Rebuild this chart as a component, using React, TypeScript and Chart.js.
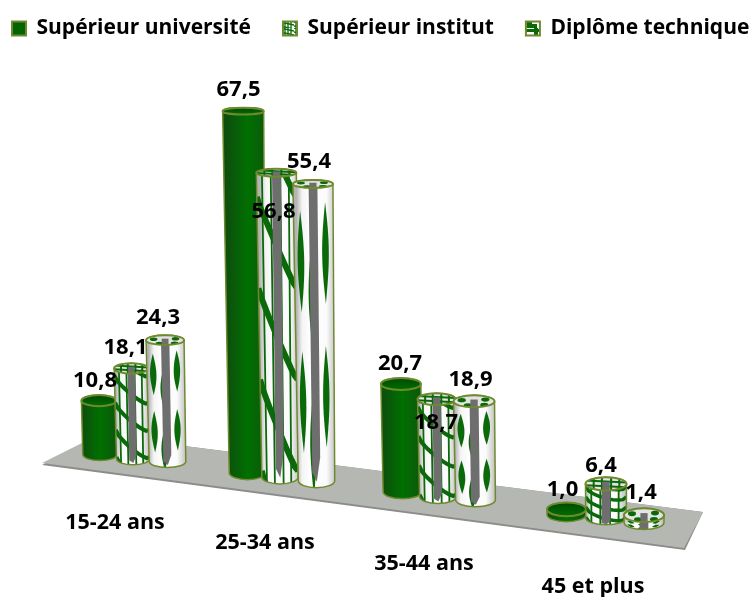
import React, { useEffect, useRef } from "react";
import { Chart, registerables } from "chart.js";

Chart.register(...registerables);

// ---- data ----
const categories = ["15-24 ans", "25-34 ans", "35-44 ans", "45 et plus"];
const seriesNames = ["Supérieur université", "Supérieur institut", "Diplôme technique"];
const universite = [10.8, 67.5, 20.7, 1.0];
const institut = [18.1, 56.8, 18.7, 6.4];
const technique = [24.3, 55.4, 18.9, 1.4];

// ---- 3D perspective layout (where each column stands on the sloping floor) ----
const xUniversite = [100, 247.5, 402.5, 566.5];
const xInstitut = [133, 280, 438, 606];
const xTechnique = [167.5, 316.5, 475.5, 644];
const floorUniversite = [26.8, 23.4, 19.8, 15.5];
const floorInstitut = [26.0, 22.6, 18.9, 14.9];
const floorTechnique = [25.5, 21.9, 18.3, 14.0];
const depth = [0.94, 1.008, 0.98, 1];
const lean = [0.02, 0.012, 0.015, 0];
const radii = [
  [17.5, 20.5, 20, 19.5],
  [17, 20, 19, 20.5],
  [19, 20, 20.5, 20],
];
const baseRy = [6, 7, 7, 7];
const labelDx = [
  [-5, -9, -2.5, -4],
  [-7.5, -6.5, -2, -5],
  [-9.5, -7.5, -5, -3],
];
const labelDy = [
  [-20, -21, -20, -20],
  [-21, 39.5, 24, -18.5],
  [-22, -22, -22, -22.5],
];
const catX = [115, 265, 424, 593];
const catY = [522.5, 542.5, 563.5, 586.5];

const OLIVE = "#6f8a2e";
const GREEN = "#0a6a0a";
const FONT = "'Open Sans', Lato, sans-serif";

function tile(kind: number) {
  const c = document.createElement("canvas");
  c.width = 14;
  c.height = 14;
  const x = c.getContext("2d")!;
  if (kind === 0) {
    x.fillStyle = "#006400";
    x.fillRect(0, 0, 14, 14);
  } else if (kind === 1) {
    x.fillStyle = "#fff";
    x.fillRect(0, 0, 14, 14);
    x.strokeStyle = GREEN;
    x.lineWidth = 1.3;
    [2, 5, 8, 11].forEach((p) => {
      x.beginPath();
      x.moveTo(p, 0);
      x.lineTo(p, 14);
      x.stroke();
    });
    [0, 4, 8, 12].forEach((p) => {
      x.beginPath();
      x.moveTo(0, p);
      x.lineTo(14, p + 3);
      x.stroke();
    });
  } else {
    x.fillStyle = "#fff";
    x.fillRect(0, 0, 14, 14);
    x.fillStyle = GREEN;
    x.fillRect(0, 1, 14, 3);
    x.fillRect(2, 0, 4, 8);
    x.fillRect(9, 8, 5, 6);
    x.fillRect(0, 10, 5, 4);
  }
  return c;
}

function cylinder(ctx: CanvasRenderingContext2D, kind: number, g: number, r: number, el: any) {
  const bx = el.x;
  const by = el.base;
  const ty = el.y;
  const h = by - ty;
  const tx = bx - h * lean[g];
  const rT = r;
  const rB = r * (1 - h * 0.0003);
  const ryB = baseRy[g];
  const ryT = ryB * (1 - h / 700);

  const silhouette = () => {
    ctx.beginPath();
    ctx.moveTo(tx - rT, ty);
    ctx.lineTo(bx - rB, by);
    ctx.ellipse(bx, by, rB, ryB, 0, Math.PI, 0, true);
    ctx.lineTo(tx + rT, ty);
    ctx.ellipse(tx, ty, rT, ryT, 0, 0, Math.PI, true);
    ctx.closePath();
  };
  const P = (u: number, t: number): [number, number] => {
    const cx = tx + (bx - tx) * t;
    const rr = rT + (rB - rT) * t;
    const ry = ryT + (ryB - ryT) * t;
    return [cx + u * rr, ty + h * t + ry * Math.sqrt(Math.max(0, 1 - u * u))];
  };

  ctx.save();
  silhouette();
  ctx.save();
  ctx.clip();
  const grad = ctx.createLinearGradient(bx - r, 0, bx + r, 0);
  if (kind === 0) {
    grad.addColorStop(0, "#0d4f0d");
    grad.addColorStop(0.5, "#007000");
    grad.addColorStop(1, "#0d560d");
  } else {
    grad.addColorStop(0, "#b4b4b4");
    grad.addColorStop(0.14, "#f4f4f4");
    grad.addColorStop(0.35, "#ffffff");
    grad.addColorStop(0.75, "#fbfbfb");
    grad.addColorStop(1, "#bcbcbc");
  }
  ctx.fillStyle = grad;
  ctx.fillRect(bx - r - 8, ty - r, 2 * r + 16, h + 2 * r);

  if (kind === 1) {
    ctx.strokeStyle = GREEN;
    ctx.lineCap = "butt";
    [-0.72, -0.28, 0.2, 0.62].forEach((u) => {
      ctx.lineWidth = 1.8;
      ctx.beginPath();
      for (let i = 0; i <= 10; i++) {
        const p = P(u, i / 10);
        if (i === 0) ctx.moveTo(p[0], p[1]);
        else ctx.lineTo(p[0], p[1]);
      }
      ctx.stroke();
    });
    ctx.lineWidth = 3.2 + h / 110;
    for (let k = -1; k < 4; k++) {
      const t0 = k * 0.3 + 0.08;
      ctx.beginPath();
      for (let i = 0; i <= 12; i++) {
        const u = -1 + i / 6;
        const p = P(u, t0 + ((u + 1) / 2) * 0.3);
        if (i === 0) ctx.moveTo(p[0], p[1]);
        else ctx.lineTo(p[0], p[1]);
      }
      ctx.stroke();
    }
  } else if (kind === 2) {
    const leaves: [number, number][] = [
      [-0.66, 0.25],
      [0.6, 0.22],
      [-0.12, 0.36],
      [-0.66, 0.72],
      [0.58, 0.7],
      [-0.14, 0.86],
    ];
    ctx.fillStyle = GREEN;
    leaves.forEach(([u, t]) => {
      ctx.beginPath();
      for (let i = 0; i <= 16; i++) {
        const s = i / 8 - 1;
        const w = 0.17 * Math.cos((s * Math.PI) / 2);
        const p = P(u - w, t + s * 0.17);
        if (i === 0) ctx.moveTo(p[0], p[1]);
        else ctx.lineTo(p[0], p[1]);
      }
      for (let i = 16; i >= 0; i--) {
        const s = i / 8 - 1;
        const w = 0.17 * Math.cos((s * Math.PI) / 2);
        const p = P(u + w, t + s * 0.17);
        ctx.lineTo(p[0], p[1]);
      }
      ctx.fill();
    });
  }
  if (kind > 0) {
    // grey seam running down the column
    const a = P(-0.22, 0.0);
    const b = P(0.22, 0.0);
    const c = P(0.22, 0.9);
    const d = P(0.02, 0.98);
    const e = P(-0.22, 0.95);
    ctx.fillStyle = "#6e6e6e";
    ctx.beginPath();
    ctx.moveTo(a[0], a[1] - ryT * 2);
    ctx.lineTo(b[0], b[1] - ryT * 2);
    ctx.lineTo(c[0], c[1]);
    ctx.lineTo(d[0], d[1]);
    ctx.lineTo(e[0], e[1]);
    ctx.closePath();
    ctx.fill();
  }
  ctx.restore();

  ctx.strokeStyle = OLIVE;
  ctx.lineWidth = 1.5;
  silhouette();
  ctx.stroke();

  // top cap
  ctx.beginPath();
  ctx.ellipse(tx, ty, rT, ryT, 0, 0, Math.PI * 2);
  ctx.save();
  ctx.clip();
  if (kind === 0) {
    const cap = ctx.createLinearGradient(0, ty - ryT, 0, ty + ryT);
    cap.addColorStop(0, "#004a00");
    cap.addColorStop(1, "#006e00");
    ctx.fillStyle = cap;
    ctx.fillRect(tx - rT, ty - ryT, 2 * rT, 2 * ryT);
  } else {
    ctx.fillStyle = "#e4e4e4";
    ctx.fillRect(tx - rT, ty - ryT, 2 * rT, 2 * ryT);
    ctx.strokeStyle = GREEN;
    ctx.lineWidth = 2;
    if (kind === 1) {
      [-0.6, -0.2, 0.25, 0.65].forEach((u) => {
        ctx.beginPath();
        ctx.moveTo(tx + u * rT, ty - ryT);
        ctx.lineTo(tx + u * rT, ty + ryT);
        ctx.stroke();
      });
      [-0.35, 0.35].forEach((v) => {
        ctx.beginPath();
        ctx.moveTo(tx - rT, ty + v * ryT - 1);
        ctx.lineTo(tx + rT, ty + v * ryT + 1);
        ctx.stroke();
      });
    } else {
      ctx.fillStyle = GREEN;
      [
        [-0.6, -0.2],
        [0.55, -0.3],
        [-0.3, 0.65],
        [0.5, 0.6],
      ].forEach(([u, v]) => {
        ctx.beginPath();
        ctx.ellipse(tx + u * rT, ty + v * ryT, rT * 0.2, Math.max(1.2, ryT * 0.35), 0, 0, Math.PI * 2);
        ctx.fill();
      });
    }
    ctx.fillStyle = "#6e6e6e";
    ctx.fillRect(tx - rT * 0.18, ty - ryT * 0.3, rT * 0.36, ryT * 1.4);
  }
  ctx.restore();
  ctx.strokeStyle = OLIVE;
  ctx.lineWidth = 2;
  ctx.beginPath();
  ctx.ellipse(tx, ty, rT, ryT, 0, 0, Math.PI * 2);
  ctx.stroke();
  ctx.restore();
}

const scenePlugin = {
  id: "scene",
  beforeLayout(chart: any) {
    // keep the three legend entries on a single row
    if (chart.legend && !chart.legend.__oneRow) {
      chart.legend.__oneRow = true;
      Object.defineProperty(chart.legend, "maxWidth", { get: () => 2000, set() {} });
    }
  },
  afterLayout(chart: any) {
    const l = chart.legend;
    l.top = -14;
    l.left = 12 - 32;
    l.right = 2000;
  },
  beforeDatasetsDraw(chart: any) {
    const ctx = chart.ctx as CanvasRenderingContext2D;
    ctx.save();
    const poly = (pts: number[][], fill: string) => {
      ctx.fillStyle = fill;
      ctx.beginPath();
      pts.forEach((p, i) => (i ? ctx.lineTo(p[0], p[1]) : ctx.moveTo(p[0], p[1])));
      ctx.closePath();
      ctx.fill();
    };
    poly(
      [
        [98, 435],
        [703, 512],
        [685, 550],
        [42, 465],
      ],
      "#8c8d8a"
    );
    poly(
      [
        [98, 435],
        [703, 512],
        [684, 548],
        [42, 463],
      ],
      "#b5b7b2"
    );
    ctx.restore();
  },
  afterDatasetsDraw(chart: any) {
    const ctx = chart.ctx as CanvasRenderingContext2D;
    const metas = [0, 1, 2].map((i) => chart.getDatasetMeta(i));
    for (let g = 0; g < categories.length; g++) {
      metas.forEach((m: any, s: number) => cylinder(ctx, s, g, radii[s][g], m.data[g]));
    }
    ctx.save();
    ctx.fillStyle = "#000";
    ctx.textAlign = "center";
    ctx.textBaseline = "middle";
    ctx.font = `700 22px ${FONT}`;
    const values = [universite, institut, technique];
    metas.forEach((m: any, s: number) => {
      m.data.forEach((el: any, g: number) => {
        ctx.fillText(values[s][g].toFixed(1).replace(".", ","), el.x + labelDx[s][g], el.y + labelDy[s][g]);
      });
    });
    ctx.font = `700 21.5px ${FONT}`;
    categories.forEach((c, i) => ctx.fillText(c, catX[i], catY[i]));
    ctx.restore();
  },
};

export default function App() {
  const ref = useRef<HTMLCanvasElement | null>(null);
  useEffect(() => {
    const canvas = ref.current!;
    const ctx = canvas.getContext("2d")!;
    const series = [
      { v: universite, x: xUniversite, f: floorUniversite },
      { v: institut, x: xInstitut, f: floorInstitut },
      { v: technique, x: xTechnique, f: floorTechnique },
    ];
    const chart = new Chart(canvas, {
      type: "bar",
      data: {
        datasets: series.map((s, i) => ({
          label: seriesNames[i],
          data: s.v.map((v, g) => ({ x: s.x[g], y: [s.f[g], s.f[g] + v * depth[g]] })),
          backgroundColor: ctx.createPattern(tile(i), "repeat") as any,
          borderColor: OLIVE,
          borderWidth: 2,
          borderSkipped: false,
          barThickness: 24,
          grouped: false,
        })),
      },
      options: {
        responsive: false,
        animation: false,
        layout: { padding: 0 },
        plugins: {
          tooltip: { enabled: false },
          legend: {
            display: true,
            position: "top",
            align: "start",
            maxWidth: 752,
            labels: {
              font: { family: FONT, size: 21, weight: 700 },
              color: "#000",
              boxWidth: 14,
              boxHeight: 14,
              padding: 32,
            },
          },
        },
        scales: {
          x: { type: "linear", display: false, min: 0, max: 752, offset: false },
          y: { display: false, min: 0, max: 100.5 },
        },
      },
      plugins: [scenePlugin],
    } as any);
    return () => chart.destroy();
  }, []);
  return (
    <div style={{ position: "fixed", left: 0, top: 0, width: 752, height: 597, background: "#fff" }}>
      <canvas ref={ref} width={752} height={597} style={{ display: "block" }} />
    </div>
  );
}
